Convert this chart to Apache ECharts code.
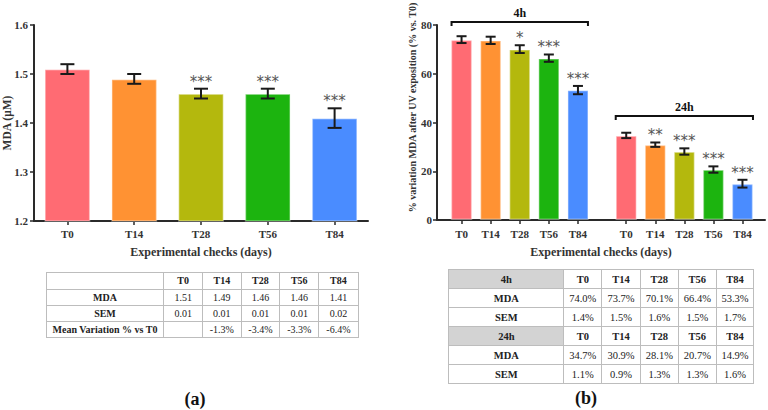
<!DOCTYPE html>
<html><head><meta charset="utf-8">
<script src="https://cdn.jsdelivr.net/npm/echarts/dist/echarts.min.js"></script>
<style>
html,body{margin:0;padding:0;background:#fff;}
#wrap{position:relative;width:768px;height:410px;overflow:hidden;}
#chart{position:absolute;left:0;top:0;width:768px;height:410px;}
table.tb{position:absolute;border-collapse:collapse;table-layout:fixed;font-family:"Liberation Serif",serif;color:#222;border:1.5px solid #a8a8a8;}
table.tb td{border:1px solid #bdbdbd;text-align:center;padding:0;white-space:nowrap;overflow:hidden;}
table.tb td.h{font-weight:bold;}
table.tb td.g{background:#d3d3d3;font-weight:bold;}
.panel{position:absolute;font-family:"Liberation Serif",serif;font-weight:bold;font-size:18px;color:#111;transform:translate(-50%,-50%);}
</style>
</head><body>
<div id="wrap">
<div id="chart"></div>
<table class="tb" id="tblA"></table>
<table class="tb" id="tblB"></table>
<div class="panel" style="left:195px;top:399px;">(a)</div>
<div class="panel" style="left:586px;top:398px;">(b)</div>
</div>
<script>
// ---------- data ----------
const categories = ['T0', 'T14', 'T28', 'T56', 'T84'];
const mdaMean = [1.51, 1.49, 1.46, 1.46, 1.41];
const mdaSem = [0.01, 0.01, 0.01, 0.01, 0.02];
const mdaVariation = ['', '-1.3%', '-3.4%', '-3.3%', '-6.4%'];
const mdaStars = ['', '', '***', '***', '***'];
const uv4hMean = [74.0, 73.7, 70.1, 66.4, 53.3];
const uv4hSem = [1.4, 1.5, 1.6, 1.5, 1.7];
const uv4hStars = ['', '', '*', '***', '***'];
const uv24hMean = [34.7, 30.9, 28.1, 20.7, 14.9];
const uv24hSem = [1.1, 0.9, 1.3, 1.3, 1.6];
const uv24hStars = ['', '**', '***', '***', '***'];
const leftTicks = [1.2, 1.3, 1.4, 1.5, 1.6];
const rightTicks = [0, 20, 40, 60, 80];
const groupLabels = ['4h', '24h'];
const bracketLevels = [81.2, 42.7];
const barColors = ['#ff6b73', '#ff9233', '#b4b80d', '#1cb40f', '#4a8cff'];

// ---------- styles ----------
const FONT = '"Liberation Serif", serif';
const AX = '#2a2a2a';
const axisLine = {show: true, lineStyle: {color: AX, width: 2}};
const axisTick = {show: true, length: 4, lineStyle: {color: AX, width: 1.5}};
const tickLabel = {color: '#333', fontFamily: FONT, fontWeight: 'bold', fontSize: 11};
const nameStyle = {color: '#333', fontFamily: FONT, fontWeight: 'bold', fontSize: 12};

function barSeries(xi, yi, values, width) {
  return {
    type: 'bar', xAxisIndex: xi, yAxisIndex: yi, barWidth: width, data: values,
    itemStyle: {color: p => barColors[p.dataIndex], borderColor: 'rgba(255,255,255,0.35)', borderWidth: 1.5},
    silent: true
  };
}
function errSeries(xi, yi, means, sems, stars, capHalf) {
  return {
    type: 'custom', xAxisIndex: xi, yAxisIndex: yi, z: 5, silent: true,
    data: means.map((m, i) => [i, m - sems[i], m + sems[i]]),
    encode: {x: 0, y: [1, 2]},
    renderItem(params, api) {
      const x = api.value(0);
      const lo = api.coord([x, api.value(1)]);
      const hi = api.coord([x, api.value(2)]);
      const st = {stroke: '#1a1a1a', lineWidth: 2};
      const ch = [
        {type: 'line', shape: {x1: lo[0], y1: lo[1], x2: hi[0], y2: hi[1]}, style: st},
        {type: 'line', shape: {x1: lo[0] - capHalf, y1: lo[1], x2: lo[0] + capHalf, y2: lo[1]}, style: st},
        {type: 'line', shape: {x1: hi[0] - capHalf, y1: hi[1], x2: hi[0] + capHalf, y2: hi[1]}, style: st}
      ];
      const s = stars[params.dataIndex];
      if (s) ch.push({type: 'text', x: hi[0], y: hi[1] - 7,
        style: {text: s, fill: '#555', font: '15px "DejaVu Sans"', align: 'center', verticalAlign: 'middle'}});
      return {type: 'group', children: ch};
    }
  };
}
function bracketSeries(xi, yi, level, label, halfBar) {
  return {
    type: 'custom', xAxisIndex: xi, yAxisIndex: yi, z: 6, silent: true,
    data: [[0, categories.length - 1, level]],
    encode: {x: [0, 1], y: 2},
    renderItem(params, api) {
      const p0 = api.coord([api.value(0), api.value(2)]);
      const p1 = api.coord([api.value(1), api.value(2)]);
      const y = p0[1];
      const xa = p0[0] - halfBar, xb = p1[0] + halfBar;
      return {type: 'group', children: [
        {type: 'polyline', shape: {points: [[xa, y + 4], [xa, y], [xb, y], [xb, y + 4]]},
         style: {stroke: '#111', lineWidth: 2, fill: null}},
        {type: 'text', x: (xa + xb) / 2, y: y - 9,
         style: {text: label, fill: '#111', font: 'bold 12px ' + FONT, align: 'center', verticalAlign: 'middle'}}
      ]};
    }
  };
}

const chart = echarts.init(document.getElementById('chart'), null, {renderer: 'svg'});
const option = {
  animation: false,
  backgroundColor: '#fff',
  grid: [
    {left: 34, top: 25, width: 334, height: 196, outerBoundsMode: 'none', containLabel: false},
    {left: 437, top: 25, width: 328, height: 195, outerBoundsMode: 'none', containLabel: false},
    {left: 447, top: 25, width: 145.5, height: 195, outerBoundsMode: 'none', containLabel: false},
    {left: 611.7, top: 25, width: 145.3, height: 195, outerBoundsMode: 'none', containLabel: false}
  ],
  xAxis: [
    {gridIndex: 0, type: 'category', data: categories, axisLine, axisTick: Object.assign({alignWithLabel: true}, axisTick),
     axisLabel: Object.assign({margin: 7}, tickLabel),
     name: 'Experimental checks (days)', nameLocation: 'middle', nameGap: 25, nameTextStyle: nameStyle},
    {gridIndex: 1, type: 'category', data: [''], axisLine, axisTick: {show: false}, axisLabel: {show: false},
     name: 'Experimental checks (days)', nameLocation: 'middle', nameGap: 26, nameTextStyle: nameStyle},
    {gridIndex: 2, type: 'category', data: categories, axisLine: {show: false}, axisTick: Object.assign({alignWithLabel: true}, axisTick),
     axisLabel: Object.assign({margin: 8}, tickLabel)},
    {gridIndex: 3, type: 'category', data: categories, axisLine: {show: false}, axisTick: Object.assign({alignWithLabel: true}, axisTick),
     axisLabel: Object.assign({margin: 8}, tickLabel)}
  ],
  yAxis: [
    {gridIndex: 0, type: 'value', min: leftTicks[0], max: leftTicks[leftTicks.length - 1], interval: 0.1,
     axisLine, axisTick, splitLine: {show: false},
     axisLabel: Object.assign({margin: 6, formatter: v => v.toFixed(1)}, tickLabel),
     name: 'MDA (μM)', nameLocation: 'middle', nameGap: 21, nameMoveOverlap: false,
     nameTextStyle: Object.assign({}, nameStyle, {fontSize: 11.5, lineHeight: 12})},
    {gridIndex: 1, type: 'value', min: rightTicks[0], max: rightTicks[rightTicks.length - 1], interval: 20,
     axisLine, axisTick, splitLine: {show: false},
     axisLabel: Object.assign({margin: 5}, tickLabel),
     name: '% variation MDA after UV exposition (% vs. T0)', nameLocation: 'middle', nameGap: 18,
     nameTextStyle: Object.assign({}, nameStyle, {fontSize: 10, padding: [0, 0, 0, 30]})},
    {gridIndex: 2, type: 'value', min: rightTicks[0], max: rightTicks[rightTicks.length - 1], show: false},
    {gridIndex: 3, type: 'value', min: rightTicks[0], max: rightTicks[rightTicks.length - 1], show: false}
  ],
  series: [
    barSeries(0, 0, mdaMean, 46),
    errSeries(0, 0, mdaMean, mdaSem, mdaStars, 7),
    barSeries(2, 2, uv4hMean, 21.5),
    errSeries(2, 2, uv4hMean, uv4hSem, uv4hStars, 5),
    bracketSeries(2, 2, bracketLevels[0], groupLabels[0], 10),
    barSeries(3, 3, uv24hMean, 21.5),
    errSeries(3, 3, uv24hMean, uv24hSem, uv24hStars, 5),
    bracketSeries(3, 3, bracketLevels[1], groupLabels[1], 10.5)
  ]
};
chart.setOption(option);

// ---------- tables ----------
function buildTable(el, rows, widths, rowH, fontSize, left, top) {
  el.style.left = left + 'px'; el.style.top = top + 'px';
  el.style.width = widths.reduce((a, b) => a + b, 0) + 'px';
  el.style.fontSize = fontSize + 'px';
  let html = '<colgroup>' + widths.map(w => '<col style="width:' + w + 'px">').join('') + '</colgroup>';
  rows.forEach(r => {
    html += '<tr style="height:' + rowH + 'px">' + r.cells.map((c, j) => {
      let cls = '';
      if (j === 0 && r.gray) cls = 'g';
      else if (j === 0 || r.header) cls = 'h';
      return '<td class="' + cls + '">' + c + '</td>';
    }).join('') + '</tr>';
  });
  el.innerHTML = html;
}
buildTable(document.getElementById('tblA'), [
  {cells: [''].concat(categories), header: true},
  {cells: ['MDA'].concat(mdaMean.map(v => v.toFixed(2)))},
  {cells: ['SEM'].concat(mdaSem.map(v => v.toFixed(2)))},
  {cells: ['Mean Variation % vs T0'].concat(mdaVariation)}
], [117.6, 38.7, 38.7, 38.6, 39, 39.4], 16.25, 10, 45.7, 272.3);

const pct = v => v.toFixed(1) + '%';
buildTable(document.getElementById('tblB'), [
  {cells: [groupLabels[0]].concat(categories), header: true, gray: true},
  {cells: ['MDA'].concat(uv4hMean.map(pct))},
  {cells: ['SEM'].concat(uv4hSem.map(pct))},
  {cells: [groupLabels[1]].concat(categories), header: true, gray: true},
  {cells: ['MDA'].concat(uv24hMean.map(pct))},
  {cells: ['SEM'].concat(uv24hSem.map(pct))}
], [115, 38, 38.4, 38.3, 37.7, 37.6], 19, 10.5, 448.3, 269.3);
</script>
</body></html>
